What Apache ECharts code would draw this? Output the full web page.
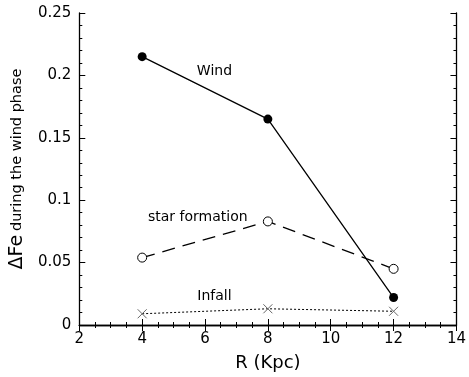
<!DOCTYPE html>
<html>
<head>
<meta charset="utf-8">
<script src="https://cdn.jsdelivr.net/npm/echarts@6/dist/echarts.min.js"></script>
<style>
  html, body { margin: 0; padding: 0; background: #fff; }
  #chart { width: 469px; height: 377px; }
</style>
</head>
<body>
<div id="chart"></div>
<script>
// data
const radius = [4, 8, 12];
const windVals = [0.215, 0.165, 0.022];
const starVals = [0.054, 0.083, 0.045];
const infallVals = [0.009, 0.013, 0.011];
const xTicks = [2, 4, 6, 8, 10, 12, 14];
const yTicks = [0, 0.05, 0.1, 0.15, 0.2, 0.25];

const font = 'DejaVu Sans';
const pairs = (ys) => radius.map((x, i) => [x, ys[i]]);

const chart = echarts.init(document.getElementById('chart'));

const tickStyle = { show: true, inside: true, length: 6, lineStyle: { color: '#000', width: 1 } };
const minorStyle = { show: true, length: 3, lineStyle: { color: '#000', width: 1 } };

// curve names written inside the plot
function label(txt, x, y) {
  return {
    coord: [x, y],
    symbol: 'rect', symbolSize: 2,
    itemStyle: { color: 'transparent' },
    label: { show: true, formatter: txt, color: '#000', fontFamily: font, fontSize: 14, position: 'inside' }
  };
}

const option = {
  animation: false,
  backgroundColor: '#fff',
  grid: { left: 78, right: 12, top: 13, bottom: 48 },
  xAxis: [{
    type: 'value', min: xTicks[0], max: xTicks[xTicks.length - 1], interval: 2,
    name: 'R (Kpc)', nameLocation: 'middle', nameGap: 29,
    nameTextStyle: { fontFamily: font, fontSize: 18, color: '#000' },
    axisLine: { lineStyle: { color: '#000', width: 1.3 } },
    axisTick: tickStyle, minorTick: Object.assign({ splitNumber: 4 }, minorStyle),
    axisLabel: { color: '#000', fontFamily: font, fontSize: 15, margin: 7 },
    splitLine: { show: false }
  }, {
    type: 'value', position: 'top', min: xTicks[0], max: xTicks[xTicks.length - 1], interval: 2,
    axisLine: { lineStyle: { color: '#000', width: 1.3 } },
    axisTick: tickStyle, minorTick: Object.assign({ splitNumber: 4 }, minorStyle),
    axisLabel: { show: false }, splitLine: { show: false }
  }],
  yAxis: [{
    type: 'value', min: yTicks[0], max: yTicks[yTicks.length - 1], interval: 0.05,
    name: '{big|ΔFe} {small|during the wind phase}', nameLocation: 'middle', nameGap: 45,
    nameTextStyle: {
      color: '#000', fontFamily: font,
      rich: { big: { fontSize: 19, fontFamily: font }, small: { fontSize: 14.5, fontFamily: font } }
    },
    axisLine: { lineStyle: { color: '#000', width: 1.3 } },
    axisTick: tickStyle, minorTick: Object.assign({ splitNumber: 5 }, minorStyle),
    axisLabel: { color: '#000', fontFamily: font, fontSize: 15, margin: 8 },
    splitLine: { show: false }
  }, {
    type: 'value', position: 'right', min: yTicks[0], max: yTicks[yTicks.length - 1], interval: 0.05,
    axisLine: { show: true, lineStyle: { color: '#000', width: 1.3 } },
    axisTick: tickStyle, minorTick: Object.assign({ splitNumber: 5 }, minorStyle),
    axisLabel: { show: false }, splitLine: { show: false }
  }],
  series: [{
    name: 'Wind', type: 'line', data: pairs(windVals),
    symbol: 'circle', symbolSize: 9,
    lineStyle: { color: '#000', width: 1.3 },
    itemStyle: { color: '#000' },
    markPoint: { data: [label('Wind', 6.3, 0.203)] }
  }, {
    name: 'star formation', type: 'line', data: pairs(starVals),
    symbol: 'circle', symbolSize: 9,
    lineStyle: { color: '#000', width: 1.3, type: [13, 8] },
    itemStyle: { color: '#fff', borderColor: '#000', borderWidth: 1 },
    markPoint: { data: [label('star formation', 5.77, 0.086)] }
  }, {
    name: 'Infall', type: 'line', data: pairs(infallVals),
    symbol: 'path://M0,0L10,10M10,0L0,10', symbolSize: 9,
    lineStyle: { color: '#000', width: 1, type: [2, 2] },
    itemStyle: { color: 'none', borderColor: '#666', borderWidth: 1 },
    markPoint: { data: [label('Infall', 6.3, 0.023)] }
  }]
};

chart.setOption(option);
</script>
</body>
</html>
